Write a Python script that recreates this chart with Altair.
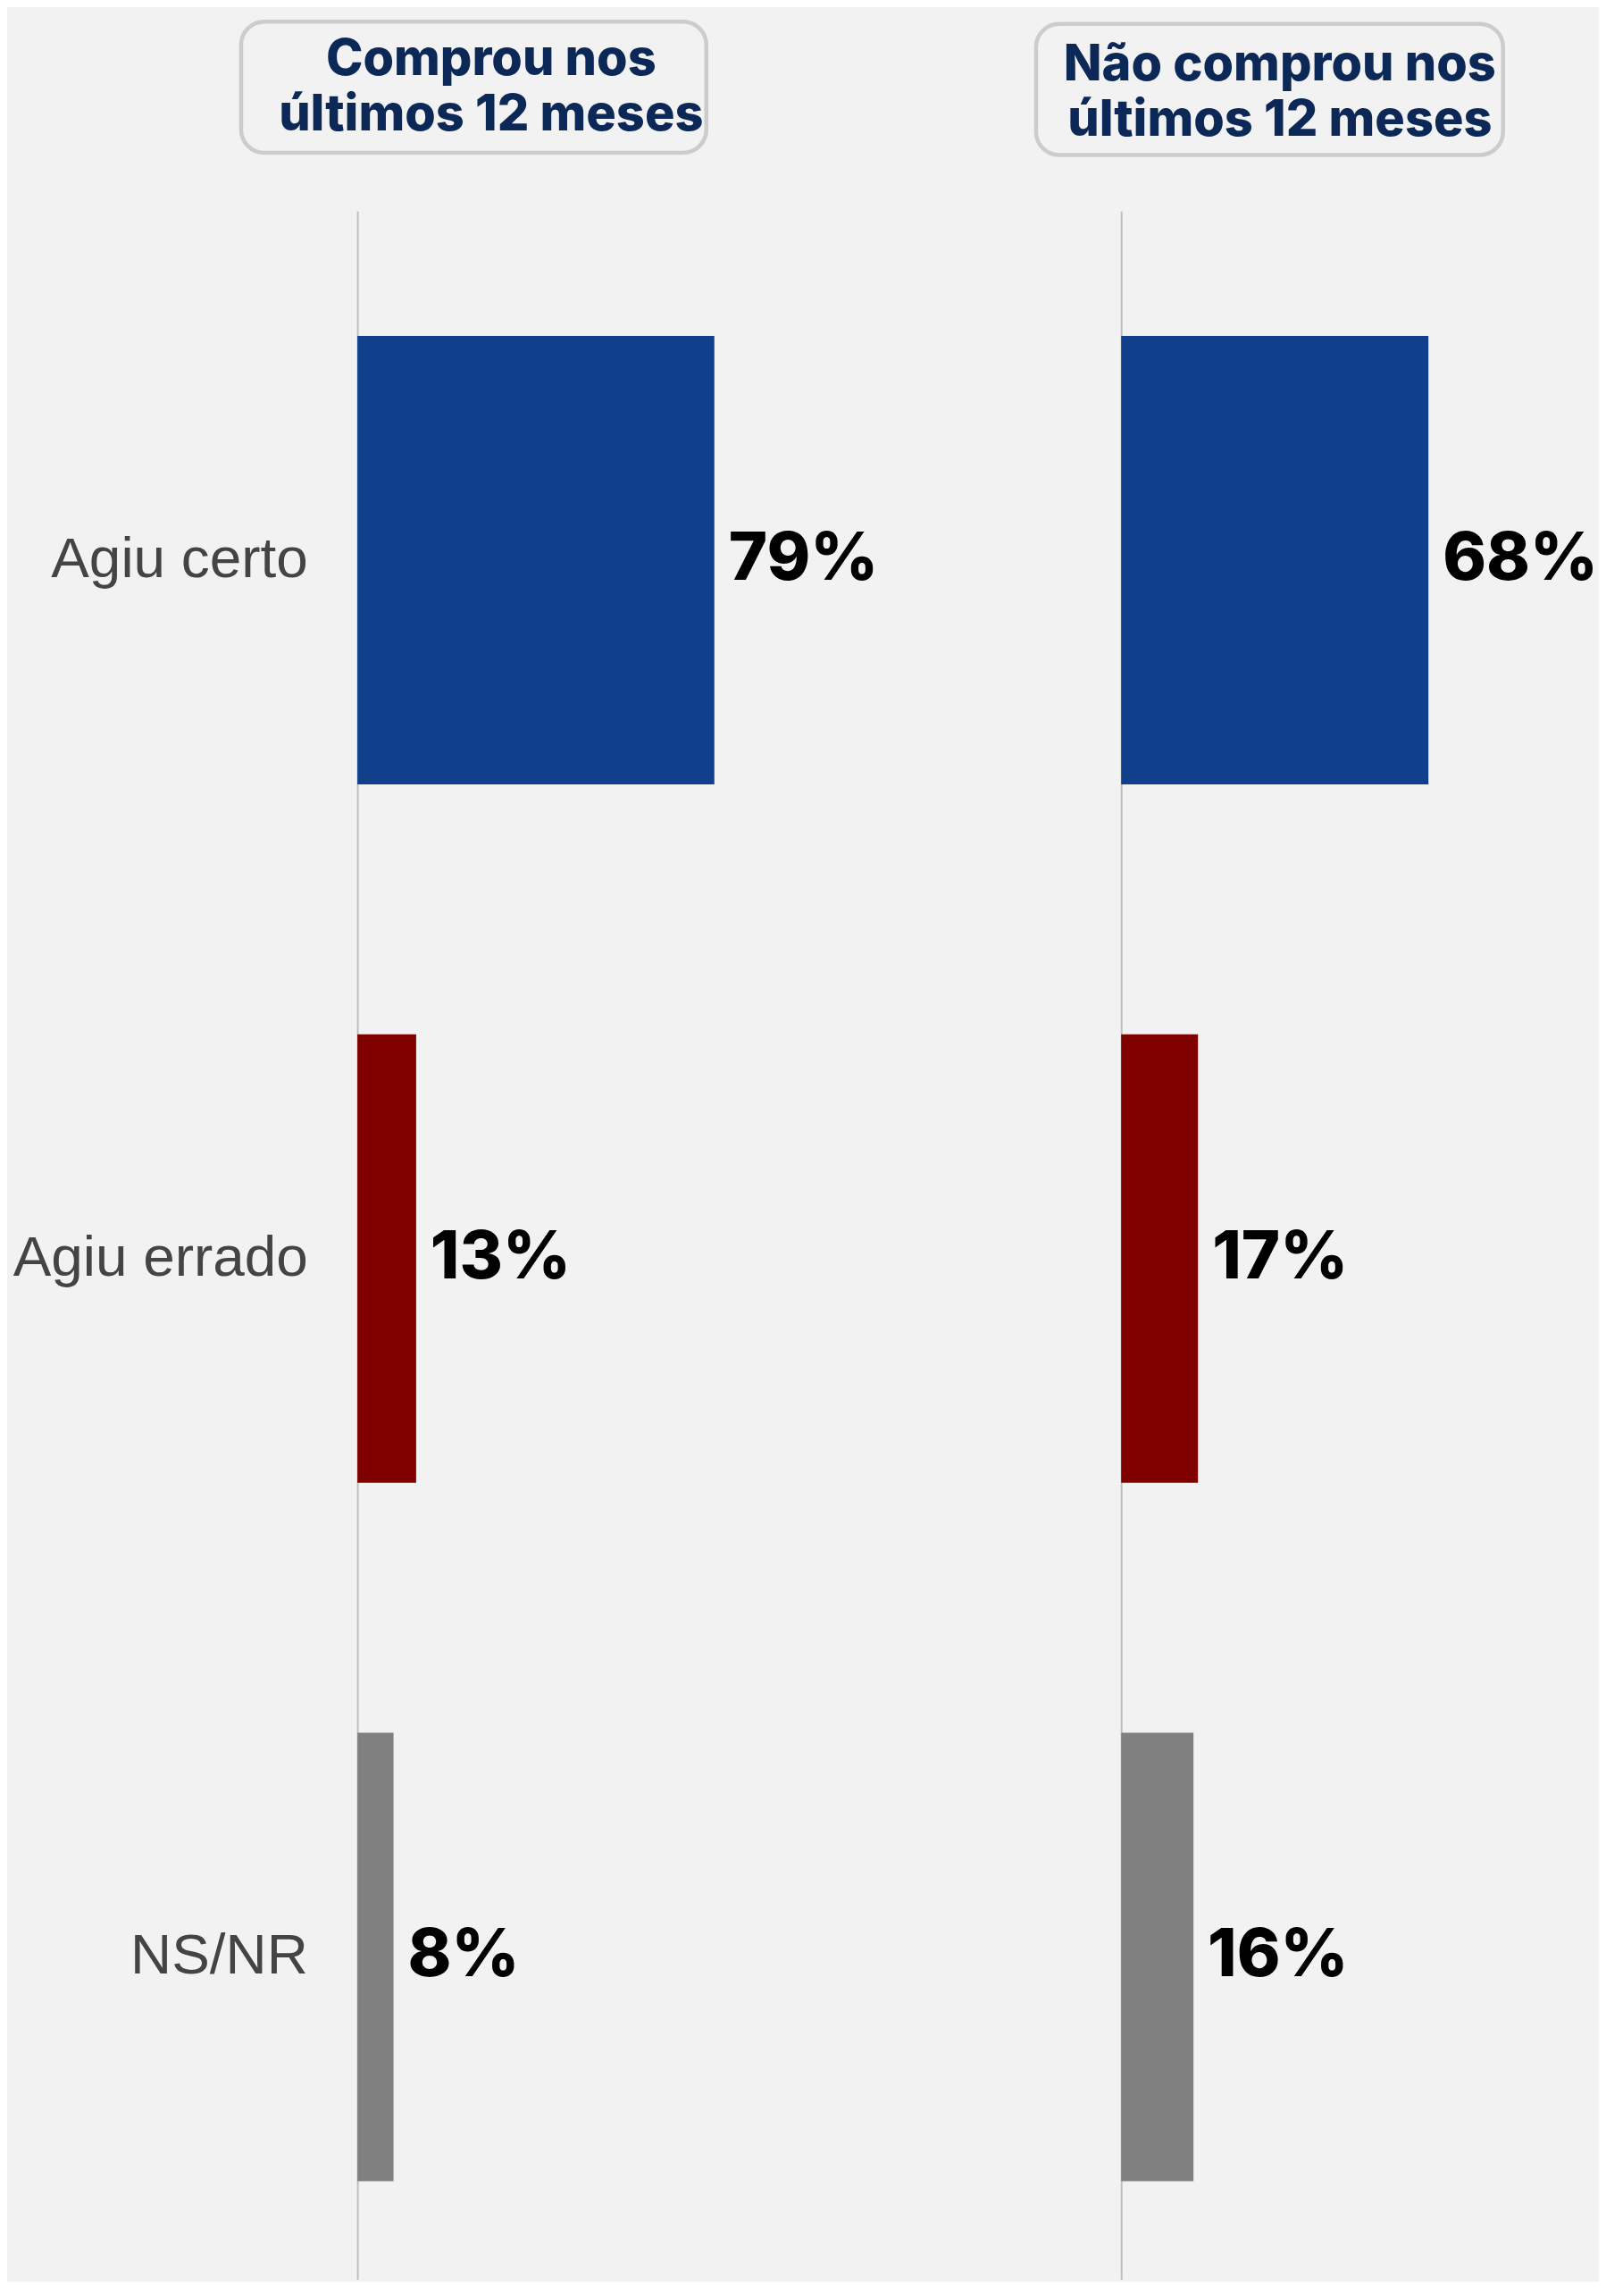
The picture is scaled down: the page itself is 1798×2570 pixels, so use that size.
import altair as alt
import pandas as pd

categories = ["Agiu certo", "Agiu errado", "NS/NR"]
comprou = [79, 13, 8]
nao_comprou = [68, 17, 16]
labels_comprou = ["79%", "13%", "8%"]
labels_nao = ["68%", "17%", "16%"]
bar_colors = ["#103F8C", "#800000", "#808080"]
title_left = ["Comprou nos", "últimos 12 meses"]
title_right = ["Não comprou nos", "últimos 12 meses"]

W = 507
H = 2320
BG = "#f2f2f2"


def panel(values, labels, title_lines, show_labels, box, tpos):
    df = pd.DataFrame({"cat": categories, "v": values, "label": labels})
    if show_labels:
        yaxis = alt.Axis(title=None, ticks=False, grid=False, domain=True,
                         domainColor="#bfbfbf", domainWidth=2,
                         labelFont="Liberation Sans", labelFontSize=64,
                         labelColor="#444444", labelPadding=56, labelLimit=600)
    else:
        yaxis = alt.Axis(title=None, ticks=False, grid=False, domain=True,
                         domainColor="#bfbfbf", domainWidth=2, labels=False)
    y = alt.Y("cat:N", sort=categories,
              scale=alt.Scale(paddingInner=0.358, paddingOuter=0.1595, align=0.56),
              axis=yaxis)
    x = alt.X("v:Q", scale=alt.Scale(domain=[0, 100]), axis=None)
    bars = alt.Chart(df).mark_bar().encode(
        x=x, y=y,
        color=alt.Color("cat:N", scale=alt.Scale(domain=categories, range=bar_colors), legend=None),
    )
    text = alt.Chart(df).mark_text(
        align="left", baseline="middle", dx=16, font="Inter", fontWeight=800,
        fontSize=74, color="#000000"
    ).encode(x=x, y=y, text="label:N")
    frame = alt.Chart(alt.Data(values=[{}])).mark_rect(
        fill=BG, stroke="#cccccc", strokeWidth=4.5, cornerRadius=26
    ).encode(x=alt.value(box[0]), x2=alt.value(box[1]),
             y=alt.value(box[2]), y2=alt.value(box[3]))
    ttl = alt.Chart(alt.Data(values=[{}])).mark_text(
        text=title_lines, font="Inter", fontWeight=800, fontSize=56,
        color="#0c2857", align="center", baseline="alphabetic", lineHeight=62
    ).encode(x=alt.value(tpos[0]), y=alt.value(tpos[1]))
    return alt.layer(frame, ttl, bars, text).properties(width=W, height=H)


left = panel(comprou, labels_comprou, title_left, True,
             (-130.5, 391.5, -212.5, -65.5), (150, -153))
right = panel(nao_comprou, labels_nao, title_right, False,
              (-95.5, 428.5, -210, -63), (178, -147))

chart = alt.hconcat(left, right, spacing=350, bounds="flush").properties(
    padding={"left": 6, "top": 11, "right": 0, "bottom": 0},
    background=BG,
).configure_view(strokeWidth=0)

chart.save("out.html", embed_options={"renderer": "svg", "actions": False})
